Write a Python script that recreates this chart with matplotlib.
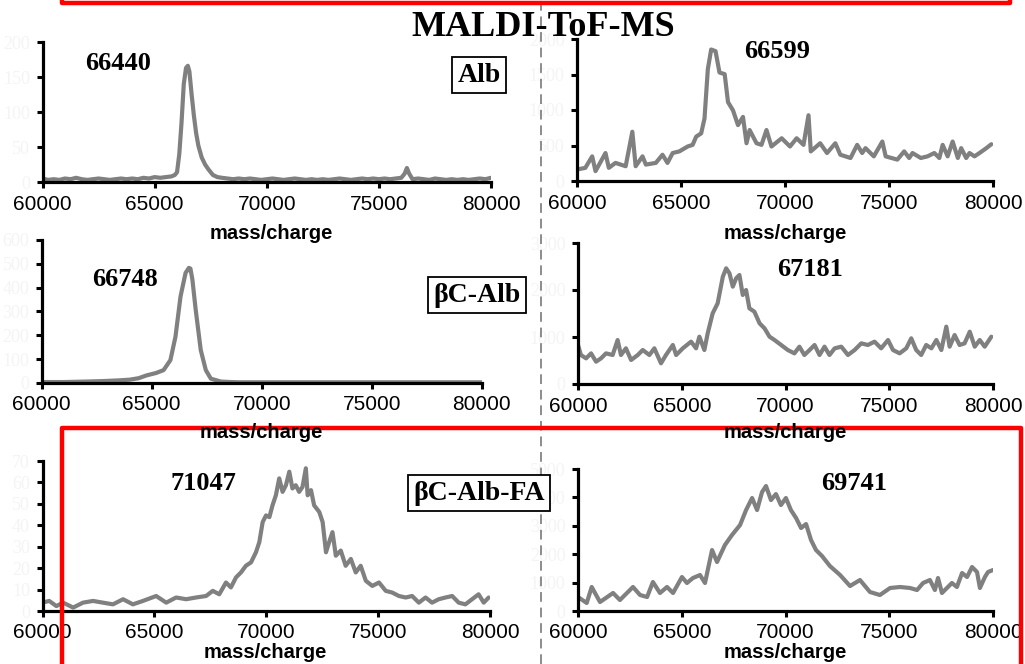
import matplotlib
matplotlib.use('Agg')
import matplotlib.pyplot as plt
from matplotlib.lines import Line2D

# ---------------- data ----------------
alb_x = [60000, 60250, 60500, 60750, 61000, 61250, 61500, 61750, 62000, 62250, 62500, 62750,
         63000, 63250, 63500, 63750, 64000, 64250, 64500, 64750, 65000, 65250, 65500, 65750,
         65900, 66000, 66100, 66200, 66300, 66400, 66480, 66550, 66650, 66750, 66850, 66950,
         67100, 67250, 67400, 67600, 67800, 68000, 68250, 68500, 68750, 69000, 69250, 69500,
         69750, 70000, 70250, 70500, 70750, 71000, 71250, 71500, 71750, 72000, 72250, 72500,
         72750, 73000, 73250, 73500, 73750, 74000, 74250, 74500, 74750, 75000, 75250, 75500,
         75750, 76000, 76150, 76250, 76350, 76500, 76750, 77000, 77250, 77500, 77750, 78000,
         78250, 78500, 78750, 79000, 79250, 79500, 79750, 80000]
alb_y = [5, 3, 4, 3, 5, 4, 6, 4, 3, 4, 5, 4,
         3, 4, 5, 4, 5, 4, 6, 5, 7, 6, 7, 8,
         10, 14, 40, 85, 140, 163, 166, 158, 125, 95, 70, 52,
         35, 25, 18, 10, 7, 6, 5, 4, 5, 4, 5, 4,
         3, 4, 5, 4, 3, 4, 5, 4, 3, 4, 3, 4,
         3, 4, 5, 4, 3, 4, 5, 4, 5, 4, 5, 4,
         5, 6, 12, 20, 12, 4, 5, 4, 3, 5, 4, 3,
         4, 3, 4, 3, 4, 5, 4, 6]

alb2_x = [60000, 60400, 60730, 60890, 61370, 61530, 61850, 62340, 62660, 62820, 63150, 63310,
          63790, 64110, 64350, 64600, 64920, 65320, 65560, 65730, 65970, 66130, 66290, 66450,
          66660, 66850, 67100, 67260, 67500, 67740, 67980, 68150, 68300, 68630, 68870, 69110,
          69350, 69840, 70240, 70560, 70890, 71130, 71240, 71690, 72020, 72420, 72660, 73150,
          73470, 73710, 73870, 74270, 74680, 74840, 75400, 75730, 75970, 76130, 76530, 76850,
          77180, 77420, 77580, 77820, 78060, 78310, 78470, 78710, 78870, 79110, 79350, 79680,
          79920]
alb2_y = [162, 185, 347, 139, 394, 185, 255, 208, 694, 208, 347, 231,
          255, 370, 255, 394, 417, 486, 509, 625, 671, 880, 1574, 1852,
          1829, 1528, 1505, 1111, 995, 787, 903, 532, 718, 532, 509, 718,
          486, 602, 486, 602, 509, 926, 417, 532, 394, 532, 370, 324,
          509, 394, 463, 347, 556, 347, 301, 417, 324, 394, 324, 347,
          394, 324, 509, 347, 556, 324, 463, 324, 394, 347, 394, 463,
          518]

bca_x = [60000, 60500, 61000, 61500, 62000, 62770, 63500, 64000, 64400, 64770, 65200, 65540,
         65850, 66080, 66310, 66540, 66690, 66760, 66850, 67000, 67230, 67460, 67690, 68150,
         68600, 69000, 70000, 71000, 72000, 73000, 74000, 75000, 76000, 77000, 78000, 79000,
         80000]
bca_y = [4, 4, 4, 5, 6, 8, 11, 14, 20, 32, 42, 54,
         96, 194, 363, 462, 483, 480, 434, 307, 138, 54, 18, 6,
         4, 3, 3, 3, 3, 3, 3, 3, 3, 3, 3, 3,
         3]

bca2_x = [60000, 60140, 60390, 60630, 60870, 61110, 61350, 61670, 61910, 62070, 62310, 62560,
          62880, 63120, 63440, 63680, 64000, 64240, 64570, 64730, 65050, 65450, 65690, 65850,
          66090, 66250, 66490, 66730, 66980, 67140, 67300, 67460, 67620, 67780, 67940, 68100,
          68260, 68500, 68750, 68990, 69230, 69470, 69790, 70110, 70430, 70670, 70910, 71160,
          71400, 71640, 71880, 72120, 72370, 72690, 73010, 73330, 73650, 73970, 74290, 74610,
          74940, 75180, 75500, 75820, 76060, 76300, 76540, 76780, 77030, 77270, 77510, 77750,
          77910, 78150, 78390, 78630, 78880, 79120, 79360, 79600, 79920]
bca2_y = [830, 617, 546, 652, 475, 546, 652, 617, 936, 617, 759, 511,
          617, 723, 617, 759, 440, 617, 830, 617, 759, 901, 759, 1007,
          723, 1078, 1504, 1716, 2284, 2461, 2355, 2071, 2248, 2319, 1894, 2000,
          1610, 1539, 1291, 1184, 1007, 936, 830, 723, 652, 794, 617, 723,
          830, 617, 794, 617, 759, 794, 617, 723, 865, 830, 901, 759,
          936, 723, 652, 759, 972, 723, 617, 830, 759, 936, 723, 1220,
          794, 1042, 830, 865, 1113, 794, 936, 794, 1007]

fa_x = [60000, 60300, 60620, 60920, 61370, 61810, 62260, 62700, 63150, 63600, 64040, 64490,
        65080, 65530, 65970, 66420, 66860, 67310, 67610, 67900, 68200, 68420, 68650, 68870,
        69090, 69320, 69540, 69690, 69840, 69990, 70140, 70280, 70430, 70580, 70730, 70880,
        71030, 71170, 71320, 71470, 71620, 71770, 71850, 72000, 72140, 72370, 72520, 72670,
        72810, 72960, 73110, 73330, 73550, 73780, 74000, 74220, 74450, 74740, 75040, 75340,
        75630, 75930, 76230, 76520, 76820, 77120, 77410, 77710, 78010, 78310, 78600, 78900,
        79200, 79490, 79720, 79940]
fa_y = [3.9, 4.7, 2.3, 3.9, 1.6, 3.9, 4.7, 3.9, 3.1, 5.5, 3.1, 4.7,
        7.0, 3.9, 6.3, 5.5, 6.3, 7.0, 9.4, 7.8, 13.3, 11.0, 15.7, 18.0,
        21.1, 22.7, 27.4, 32.1, 41.5, 44.6, 43.8, 49.3, 54.0, 61.9, 55.6, 58.7,
        65.0, 57.2, 58.7, 55.6, 57.9, 66.6, 54.0, 56.4, 49.3, 46.2, 41.5, 27.4,
        32.1, 36.8, 25.8, 28.2, 21.1, 24.3, 18.0, 21.1, 14.1, 11.7, 13.3, 9.4,
        8.6, 7.0, 6.3, 7.0, 3.9, 6.3, 3.9, 5.5, 6.3, 7.0, 3.9, 3.1,
        5.5, 7.8, 3.9, 6.3]

fa2_x = [60000, 60420, 60660, 61060, 61690, 62020, 62650, 62990, 63330, 63610, 63950, 64290,
         64580, 65010, 65250, 65540, 65880, 66120, 66460, 66700, 67080, 67420, 67810, 68100,
         68390, 68630, 68870, 69060, 69300, 69540, 69780, 70020, 70260, 70510, 70750, 70990,
         71230, 71470, 71760, 72140, 72630, 73110, 73590, 74070, 74550, 75040, 75520, 76000,
         76340, 76630, 76960, 77200, 77350, 77540, 77780, 78020, 78260, 78510, 78750, 78990,
         79230, 79370, 79610, 79760, 80000]
fa2_y = [493, 282, 845, 317, 634, 387, 845, 563, 493, 1021, 634, 845,
         634, 1197, 986, 1162, 1267, 986, 2147, 1725, 2323, 2675, 3027, 3555,
         3978, 3555, 4189, 4400, 3907, 4118, 3731, 3978, 3555, 3274, 2922, 3062,
         2499, 2147, 1936, 1584, 1267, 880, 1091, 669, 563, 810, 845, 810,
         739, 986, 1091, 739, 1162, 634, 810, 986, 845, 1338, 1197, 1549,
         1373, 810, 1197, 1373, 1443]

xticks = [60000, 65000, 70000, 75000, 80000]
peak_labels = ['66440', '66599', '66748', '67181', '71047', '69741']
sample_labels = ['Alb', 'βC-Alb', 'βC-Alb-FA']
title = 'MALDI-ToF-MS'
xlabel = 'mass/charge'

# ---------------- figure ----------------
W, H = 1025, 664
fig = plt.figure(figsize=(W / 100, H / 100), dpi=100)

def fx(x):
    return x / W

def fy(y):
    return 1 - y / H

def make_ax(l, t, r, b, xs, ys, ymax, ystep):
    ax = fig.add_axes([l / W, 1 - b / H, (r - l) / W, (b - t) / H])
    ax.plot(xs, ys, color='#808080', lw=3.0, solid_joinstyle='round', solid_capstyle='round')
    ax.set_xlim(60000, 80000)
    ax.set_ylim(0, ymax)
    for s in ['top', 'right']:
        ax.spines[s].set_visible(False)
    for s in ['left', 'bottom']:
        ax.spines[s].set_linewidth(2.3)
        ax.spines[s].set_color('black')
    ax.set_xticks(xticks)
    ax.set_xticklabels([str(v) for v in xticks], fontsize=15, family='Liberation Sans')
    yt = list(range(0, ymax + 1, ystep))
    ax.set_yticks(yt)
    ax.set_yticklabels([str(v) for v in yt], fontsize=13, family='Liberation Serif', color='#f4f4f4')
    ax.tick_params(axis='both', direction='out', length=4, width=2.2, color='black')
    ax.tick_params(axis='x', pad=5)
    ax.tick_params(axis='y', pad=5)
    ax.patch.set_alpha(0)
    return ax

make_ax(42.5, 42, 491, 182, alb_x, alb_y, 200, 50)
make_ax(577, 39, 993, 181, alb2_x, alb2_y, 2000, 500)
make_ax(41.7, 240, 481.7, 383, bca_x, bca_y, 600, 100)
make_ax(578, 243, 993, 384, bca2_x, bca2_y, 3000, 1000)
make_ax(42.5, 461, 490, 611, fa_x, fa_y, 70, 10)
make_ax(578, 469, 993, 611, fa2_x, fa2_y, 5000, 1000)

# axis labels
for (cx, cy) in [(271, 234), (785, 234), (261, 432), (785, 432), (265, 653), (785, 653)]:
    fig.text(fx(cx), fy(cy), xlabel, ha='center', va='center', fontsize=14.5,
             fontweight='bold', family='Liberation Sans')

# peak labels
for lab, (cx, cy) in zip(peak_labels, [(118, 64), (777, 51), (125, 280), (810, 270), (203, 484), (854, 483)]):
    fig.text(fx(cx), fy(cy), lab, ha='center', va='center', fontsize=19,
             fontweight='bold', family='Liberation Serif')

# sample boxes
for lab, (cx, cy) in zip(sample_labels, [(479, 75), (477, 295), (479, 493)]):
    fig.text(fx(cx), fy(cy), lab, ha='center', va='center', fontsize=20,
             fontweight='bold', family='Liberation Serif',
             bbox=dict(boxstyle='square,pad=0.2', facecolor='white', edgecolor='black', lw=1.3))

# title
fig.text(fx(543), fy(27), title, ha='center', va='center', fontsize=26,
         fontweight='bold', family='Liberation Serif')

# dashed divider
fig.add_artist(Line2D([fx(541), fx(541)], [0, 1], color='#8c8c8c', lw=1.4,
                      linestyle=(0, (5, 3)), transform=fig.transFigure))

# red highlight frames
fig.add_artist(Line2D([fx(62), fx(62), fx(1010), fx(1010)], [fy(-5), fy(3), fy(3), fy(-5)],
                      color='#ff0000', lw=3.2, transform=fig.transFigure))
fig.add_artist(Line2D([fx(62), fx(62), fx(1021), fx(1021)], [fy(670), fy(428), fy(428), fy(670)],
                      color='#ff0000', lw=3.2, transform=fig.transFigure))

fig.savefig('out.png', dpi=100)
